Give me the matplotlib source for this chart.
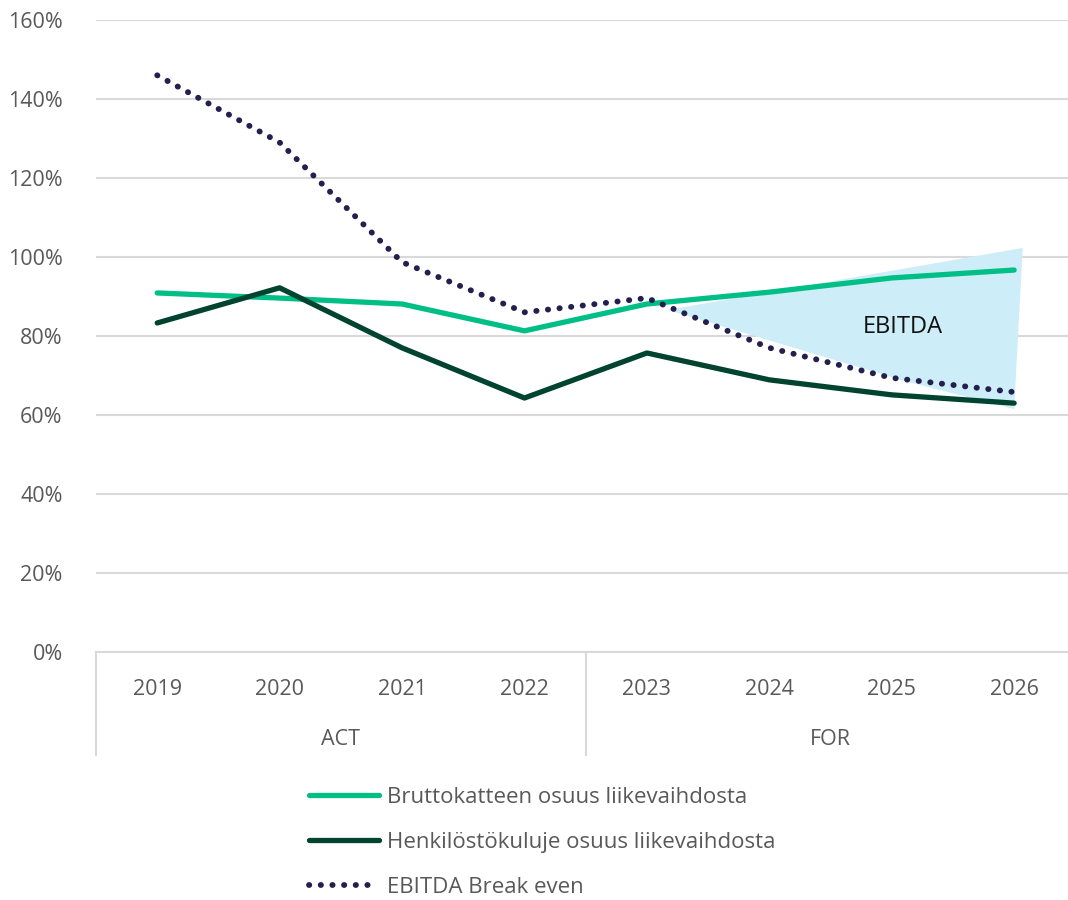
import matplotlib
matplotlib.use('Agg')
import matplotlib.pyplot as plt
import matplotlib.ticker as ticker

plt.rcParams['font.family'] = ['Open Sans', 'DejaVu Sans']

# data
years = ['2019', '2020', '2021', '2022', '2023', '2024', '2025', '2026']
groups = ['ACT', 'FOR']
brutto = [90.9, 89.6, 88.1, 81.3, 88.1, 91.1, 94.7, 96.7]
henkilo = [83.3, 92.2, 77.0, 64.3, 75.7, 68.9, 65.1, 63.0]
ebitda_be = [146.0, 129.0, 98.7, 86.0, 89.6, 77.0, 69.4, 65.8]
# shaded "EBITDA" wedge (category index, %)
shade_x = [4.17, 7.07, 7.0, 6.13]
shade_y = [86.6, 102.3, 61.5, 68.4]

grey = '#595959'
grid = '#D9D9D9'

fig = plt.figure(figsize=(10.68, 9), dpi=100)
ax = fig.add_axes([96/1068, 1 - 652/900, 1 - 96/1068, 632/900])

x = list(range(len(years)))

ax.fill(shade_x, shade_y, color='#CDEDF8', lw=0, zorder=1)
ax.plot(x, brutto, color='#00BF86', lw=3.8, solid_capstyle='round',
        label='Bruttokatteen osuus liikevaihdosta', zorder=3)
ax.plot(x, henkilo, color='#00432F', lw=3.8, solid_capstyle='round',
        label='Henkilöstökuluje osuus liikevaihdosta', zorder=3)
ax.plot(x, ebitda_be, color='#231F4F', lw=4.2, linestyle=(0, (0.05, 1.95)),
        dash_capstyle='round', label='EBITDA Break even', zorder=4)

ax.text(6.09, 82.3, 'EBITDA', fontsize=17, color='#111111', ha='center', va='center', zorder=5)

ax.set_xlim(-0.5, 7.44)
ax.set_ylim(0, 160)
ax.yaxis.set_major_locator(ticker.MultipleLocator(20))
ax.yaxis.set_major_formatter(ticker.FuncFormatter(lambda v, p: f'{v:.0f}%'))
ax.grid(axis='y', color=grid, lw=1.5)
ax.set_axisbelow(True)
for s in ['top', 'right', 'left']:
    ax.spines[s].set_visible(False)
ax.spines['bottom'].set_color(grid)
ax.spines['bottom'].set_linewidth(1.5)
ax.tick_params(axis='y', length=0, labelsize=15.5, labelcolor=grey, pad=24)
ax.set_xticks([])

# two-level category axis
tr = ax.get_xaxis_transform()
for i, yr in enumerate(years):
    ax.text(i, -0.060, yr, transform=tr, ha='center', va='center', fontsize=15.5, color=grey)
for g, (a, b) in zip(groups, [(0, 3), (4, 7)]):
    ax.text((a + b) / 2, -0.139, g, transform=tr, ha='center', va='center', fontsize=15.5, color=grey)
for xv in [-0.5, 3.5]:
    ax.plot([xv, xv], [0, -0.163], transform=tr, color=grid, lw=1.5, clip_on=False)

fig.legend(loc='upper left', bbox_to_anchor=(300/1068, 1 - 778/900), frameon=False,
           fontsize=16, handlelength=3.15, handletextpad=0.35, labelspacing=1.08,
           labelcolor=grey, borderaxespad=0)

plt.savefig('out.png', dpi=100)
